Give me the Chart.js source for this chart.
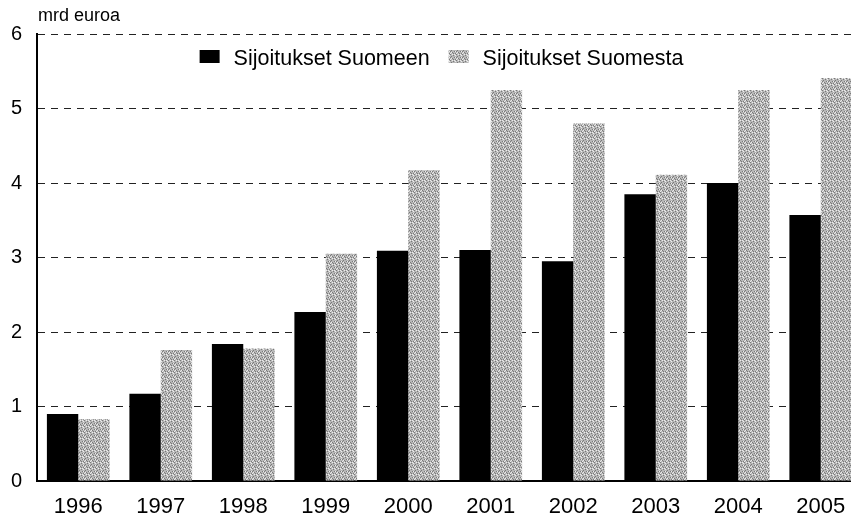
<!DOCTYPE html>
<html>
<head>
<meta charset="utf-8">
<script src="https://cdn.jsdelivr.net/npm/chart.js@4/dist/chart.umd.min.js"></script>
<style>
  html, body { margin: 0; padding: 0; background: #fff; overflow: hidden; }
  #wrap { width: 862px; height: 518px; }
</style>
</head>
<body>
<div id="wrap"><canvas id="myChart" width="862" height="518"></canvas></div>
<script>
var years = ["1996", "1997", "1998", "1999", "2000", "2001", "2002", "2003", "2004", "2005"];
var suomeen = [0.90, 1.17, 1.84, 2.27, 3.09, 3.10, 2.95, 3.85, 4.00, 3.57];
var suomesta = [0.83, 1.76, 1.78, 3.05, 4.17, 5.25, 4.80, 4.11, 5.25, 5.41];
var yTicks = [0, 1, 2, 3, 4, 5, 6];
var unitLabel = "mrd euroa";

var fontName = "'Liberation Sans', Arial, sans-serif";

// dithered grey fill, like the printed original
function makeDither() {
    var c = document.createElement("canvas");
    c.width = 6; c.height = 6;
    var g = c.getContext("2d");
    g.fillStyle = "#b8b8b8";
    g.fillRect(0, 0, 6, 6);
    var dark = [[0,0],[3,1],[1,2],[4,3],[2,4],[5,5],[0,3],[3,5]];
    var light = [[2,0],[5,1],[0,5],[4,0],[1,4],[5,3]];
    g.fillStyle = "#7a7a7a";
    dark.forEach(function(p) { g.fillRect(p[0], p[1], 1, 1); });
    g.fillStyle = "#ececec";
    light.forEach(function(p) { g.fillRect(p[0], p[1], 1, 1); });
    return g.createPattern(c, "repeat");
}

var ctx = document.getElementById("myChart").getContext("2d");
var greyFill = makeDither();

// draws unit label and the in-plot legend
var extras = {
    id: "extras",
    afterDraw: function(chart) {
        var c = chart.ctx, area = chart.chartArea;
        c.save();
        c.fillStyle = "#000";
        c.textBaseline = "alphabetic";
        c.font = "18px " + fontName;
        c.fillText(unitLabel, area.left + 1, 21);

        c.font = "21.5px " + fontName;
        var sets = chart.data.datasets;
        var box = 20, gap1 = 14, gap2 = 19;
        var widths = sets.map(function(d) { return box + gap1 + c.measureText(d.label).width; });
        var total = widths[0] + gap2 + widths[1];
        var x = (area.left + area.right) / 2 - total / 2 - 8;
        var y = 65;
        sets.forEach(function(d, i) {
            c.fillStyle = d.backgroundColor;
            c.fillRect(x, y - 15, box, 13);
            c.fillStyle = "#000";
            c.fillText(d.label, x + box + gap1, y);
            x += widths[i] + gap2;
        });
        c.restore();
    }
};

var myChart = new Chart(ctx, {
    type: "bar",
    data: {
        labels: years,
        datasets: [
            { label: "Sijoitukset Suomeen", data: suomeen, backgroundColor: "#000" },
            { label: "Sijoitukset Suomesta", data: suomesta, backgroundColor: greyFill }
        ]
    },
    options: {
        responsive: false,
        animation: false,
        layout: { padding: { top: 34, right: 0, bottom: 0, left: 0 } },
        datasets: { bar: { categoryPercentage: 0.76, barPercentage: 1.0 } },
        plugins: { legend: { display: false }, tooltip: { enabled: false } },
        scales: {
            x: {
                afterFit: function(scale) { scale.height = 37; },
                grid: { display: false, drawTicks: false },
                border: { display: true, color: "#000", width: 2 },
                ticks: { color: "#000", font: { family: fontName, size: 22 }, padding: 13, maxRotation: 0 }
            },
            y: {
                min: yTicks[0],
                max: yTicks[yTicks.length - 1],
                afterBuildTicks: function(scale) {
                    scale.ticks = yTicks.map(function(v) { return { value: v }; });
                },
                afterFit: function(scale) { scale.width = 37; },
                grid: { color: "#222", lineWidth: 1, drawTicks: false },
                border: { display: true, color: "#000", width: 2, dash: [7, 6] },
                ticks: { color: "#000", font: { family: fontName, size: 20 }, padding: 15 }
            }
        }
    },
    plugins: [extras]
});
</script>
</body>
</html>
